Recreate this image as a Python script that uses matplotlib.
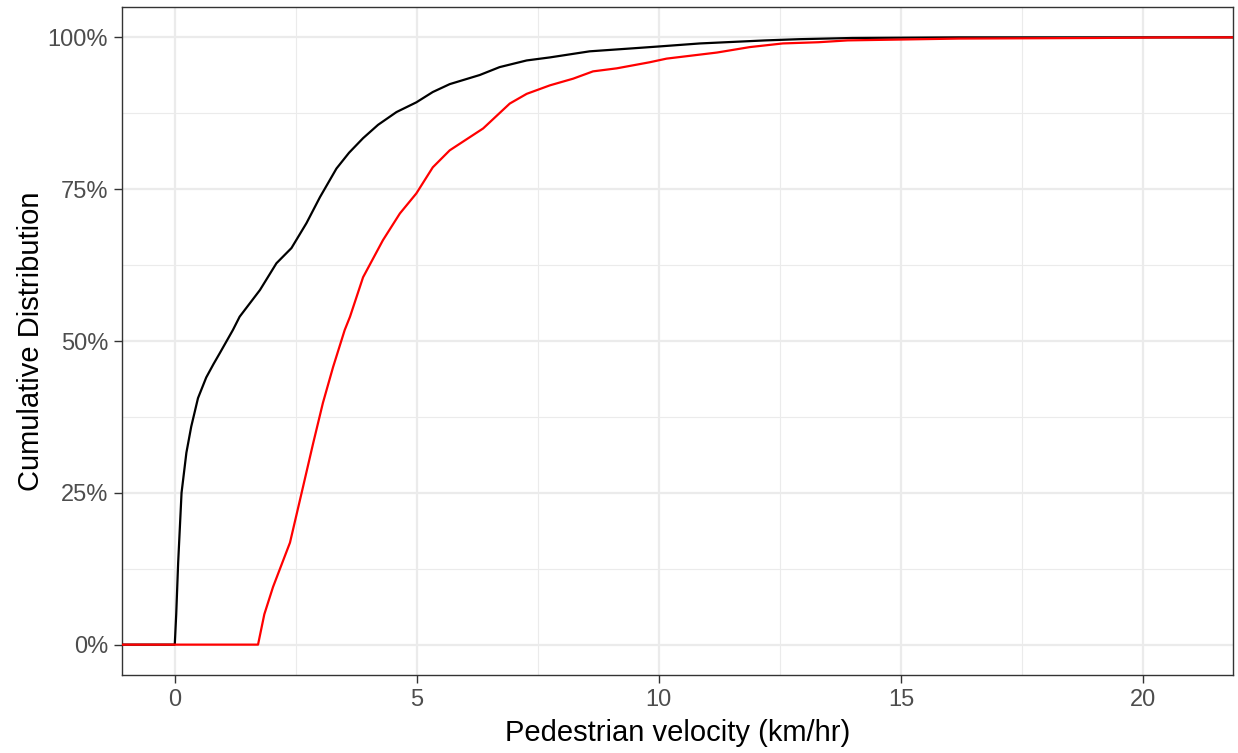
import matplotlib.pyplot as plt
from matplotlib.ticker import MultipleLocator, FuncFormatter

plt.rcParams['font.family'] = ['Liberation Sans', 'DejaVu Sans']

# cumulative distribution (km/hr, fraction)
black_x = [-5, 0.0, 0.03, 0.07, 0.14, 0.24, 0.34, 0.48, 0.65, 0.8, 0.93, 1.2, 1.34, 1.55, 1.76, 2.1, 2.41,
           2.72, 3.0, 3.34, 3.6, 3.89, 4.2, 4.58, 4.99, 5.33, 5.68, 6.3, 6.71, 7.27, 7.75, 8.57,
           9.47, 10.0, 10.85, 12.2, 12.9, 14.0, 16.2, 30]
black_y = [0, 0, 0.05, 0.135, 0.25, 0.316, 0.359, 0.406, 0.44, 0.462, 0.48, 0.518, 0.54, 0.562, 0.584, 0.628, 0.653,
           0.694, 0.737, 0.784, 0.81, 0.834, 0.856, 0.877, 0.893, 0.91, 0.923, 0.938, 0.951, 0.962, 0.967, 0.977,
           0.982, 0.985, 0.99, 0.995, 0.997, 0.999, 1.0, 1.0]

red_x = [-5, 1.72, 1.85, 2.03, 2.38, 2.65, 2.86, 3.06, 3.27, 3.51, 3.62, 3.89, 4.3, 4.65, 4.99,
         5.33, 5.68, 6.37, 6.92, 7.27, 7.75, 8.23, 8.64, 9.13, 9.81, 10.16, 11.2, 11.88,
         12.56, 13.3, 13.9, 16.2, 19.05, 20.7, 30]
red_y = [0, 0, 0.05, 0.095, 0.168, 0.26, 0.332, 0.398, 0.457, 0.518, 0.54, 0.605, 0.666, 0.71, 0.743,
         0.786, 0.814, 0.85, 0.891, 0.907, 0.921, 0.932, 0.944, 0.949, 0.959, 0.965, 0.975, 0.984,
         0.99, 0.992, 0.995, 0.998, 0.999, 1.0, 1.0]

fig = plt.figure(figsize=(12.38, 7.53), dpi=100)
ax = fig.add_axes([122/1238, 1 - 675/753, 1111/1238, 668/753])

ax.plot(black_x, black_y, color='black', linewidth=1.6, zorder=3)
ax.plot(red_x, red_y, color='red', linewidth=1.6, zorder=3)

ax.set_xlim(-1.09, 21.86)
ax.set_ylim(-0.05, 1.05)

ax.xaxis.set_major_locator(MultipleLocator(5))
ax.xaxis.set_minor_locator(MultipleLocator(2.5))
ax.yaxis.set_major_locator(MultipleLocator(0.25))
ax.yaxis.set_minor_locator(MultipleLocator(0.125))
ax.yaxis.set_major_formatter(FuncFormatter(lambda v, p: f"{v*100:.0f}%"))

ax.grid(which='major', color='#EBEBEB', linewidth=1.6, zorder=0)
ax.grid(which='minor', color='#EBEBEB', linewidth=0.8, zorder=0)
ax.set_axisbelow(True)

for s in ax.spines.values():
    s.set_color('#333333')
    s.set_linewidth(1.0)

ax.tick_params(which='major', length=6, width=1.0, color='#333333',
               labelsize=17, labelcolor='#4D4D4D', pad=4)
ax.tick_params(which='minor', length=0)

ax.set_xlabel('Pedestrian velocity (km/hr)', fontsize=21, labelpad=6)
ax.set_ylabel('Cumulative Distribution', fontsize=21, labelpad=2)

fig.savefig('out.png', dpi=100)
